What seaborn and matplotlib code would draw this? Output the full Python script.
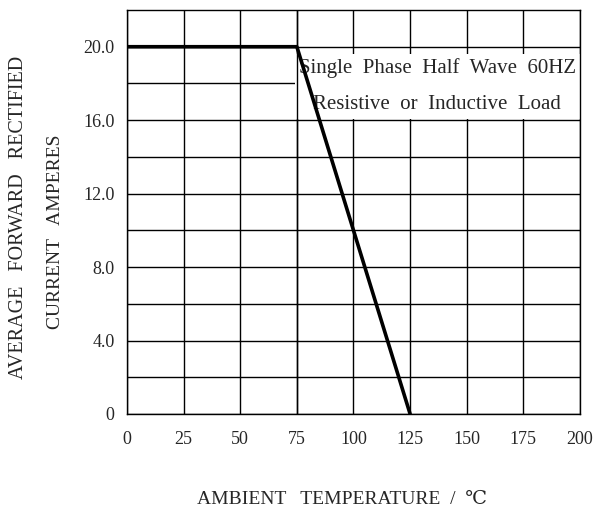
import numpy as np
import pandas as pd
import matplotlib
matplotlib.use("Agg")
import matplotlib.pyplot as plt
import seaborn as sns

# ---------------------------------------------
# data
# ---------------------------------------------
temperature = [0, 75, 125]
current = [20.0, 20.0, 0.0]

x_ticks = [0, 25, 50, 75, 100, 125, 150, 175, 200]
y_ticks = [0, 4, 8, 12, 16, 20]
y_tick_labels = ["0", "4.0", "8.0", "12.0", "16.0", "20.0"]
y_minor = [2, 6, 10, 14, 18]

note_lines = ["Single  Phase  Half  Wave  60HZ",
              "Resistive  or  Inductive  Load"]

sns.set_style("white")
plt.rcParams["font.family"] = ["Liberation Serif", "DejaVu Serif"]

fig = plt.figure(figsize=(5.95, 5.13), dpi=100)
ax = fig.add_axes([0.2134, 0.193, 0.7614, 0.7875])

df = pd.DataFrame({"temp": temperature, "amps": current})
sns.lineplot(data=df, x="temp", y="amps", color="black", linewidth=2.6,
             ax=ax, zorder=5)

ax.set_xlim(0, 200)
ax.set_ylim(0, 22)
ax.set_xticks(x_ticks)
ax.set_xticklabels([str(t) for t in x_ticks], fontsize=13)
ax.set_yticks(y_ticks)
ax.set_yticklabels(y_tick_labels, fontsize=13)
ax.set_yticks(y_minor, minor=True)
ax.tick_params(which="both", length=0)
ax.tick_params(axis="x", pad=12)
ax.tick_params(axis="y", pad=9)

ax.grid(True, which="both", color="black", linewidth=1.0)
ax.set_axisbelow(True)
for s in ax.spines.values():
    s.set_color("black")
    s.set_linewidth(1.0)
    s.set_zorder(4)

ax.set_xlabel("")
ax.set_ylabel("")

# note box (white background hides the grid behind it)
ax.text(137, 17.85, "\n".join(note_lines), ha="center", va="center",
        fontsize=15, linespacing=2.25, zorder=3,
        bbox=dict(facecolor="white", edgecolor="none", pad=3))
# grid line at the knee stays visible through the note box
ax.axvline(temperature[1], color="black", linewidth=1.0, zorder=4)

fig.text(0.575, 0.027, "AMBIENT   TEMPERATURE  /  \u2103", ha="center",
         va="center", fontsize=14)
fig.text(0.031, 0.577, "AVERAGE   FORWARD   RECTIFIED", rotation=90,
         ha="center", va="center", fontsize=14.5)
fig.text(0.093, 0.548, "CURRENT   AMPERES", rotation=90,
         ha="center", va="center", fontsize=14)

fig.savefig("out.png", dpi=100, facecolor="white")
